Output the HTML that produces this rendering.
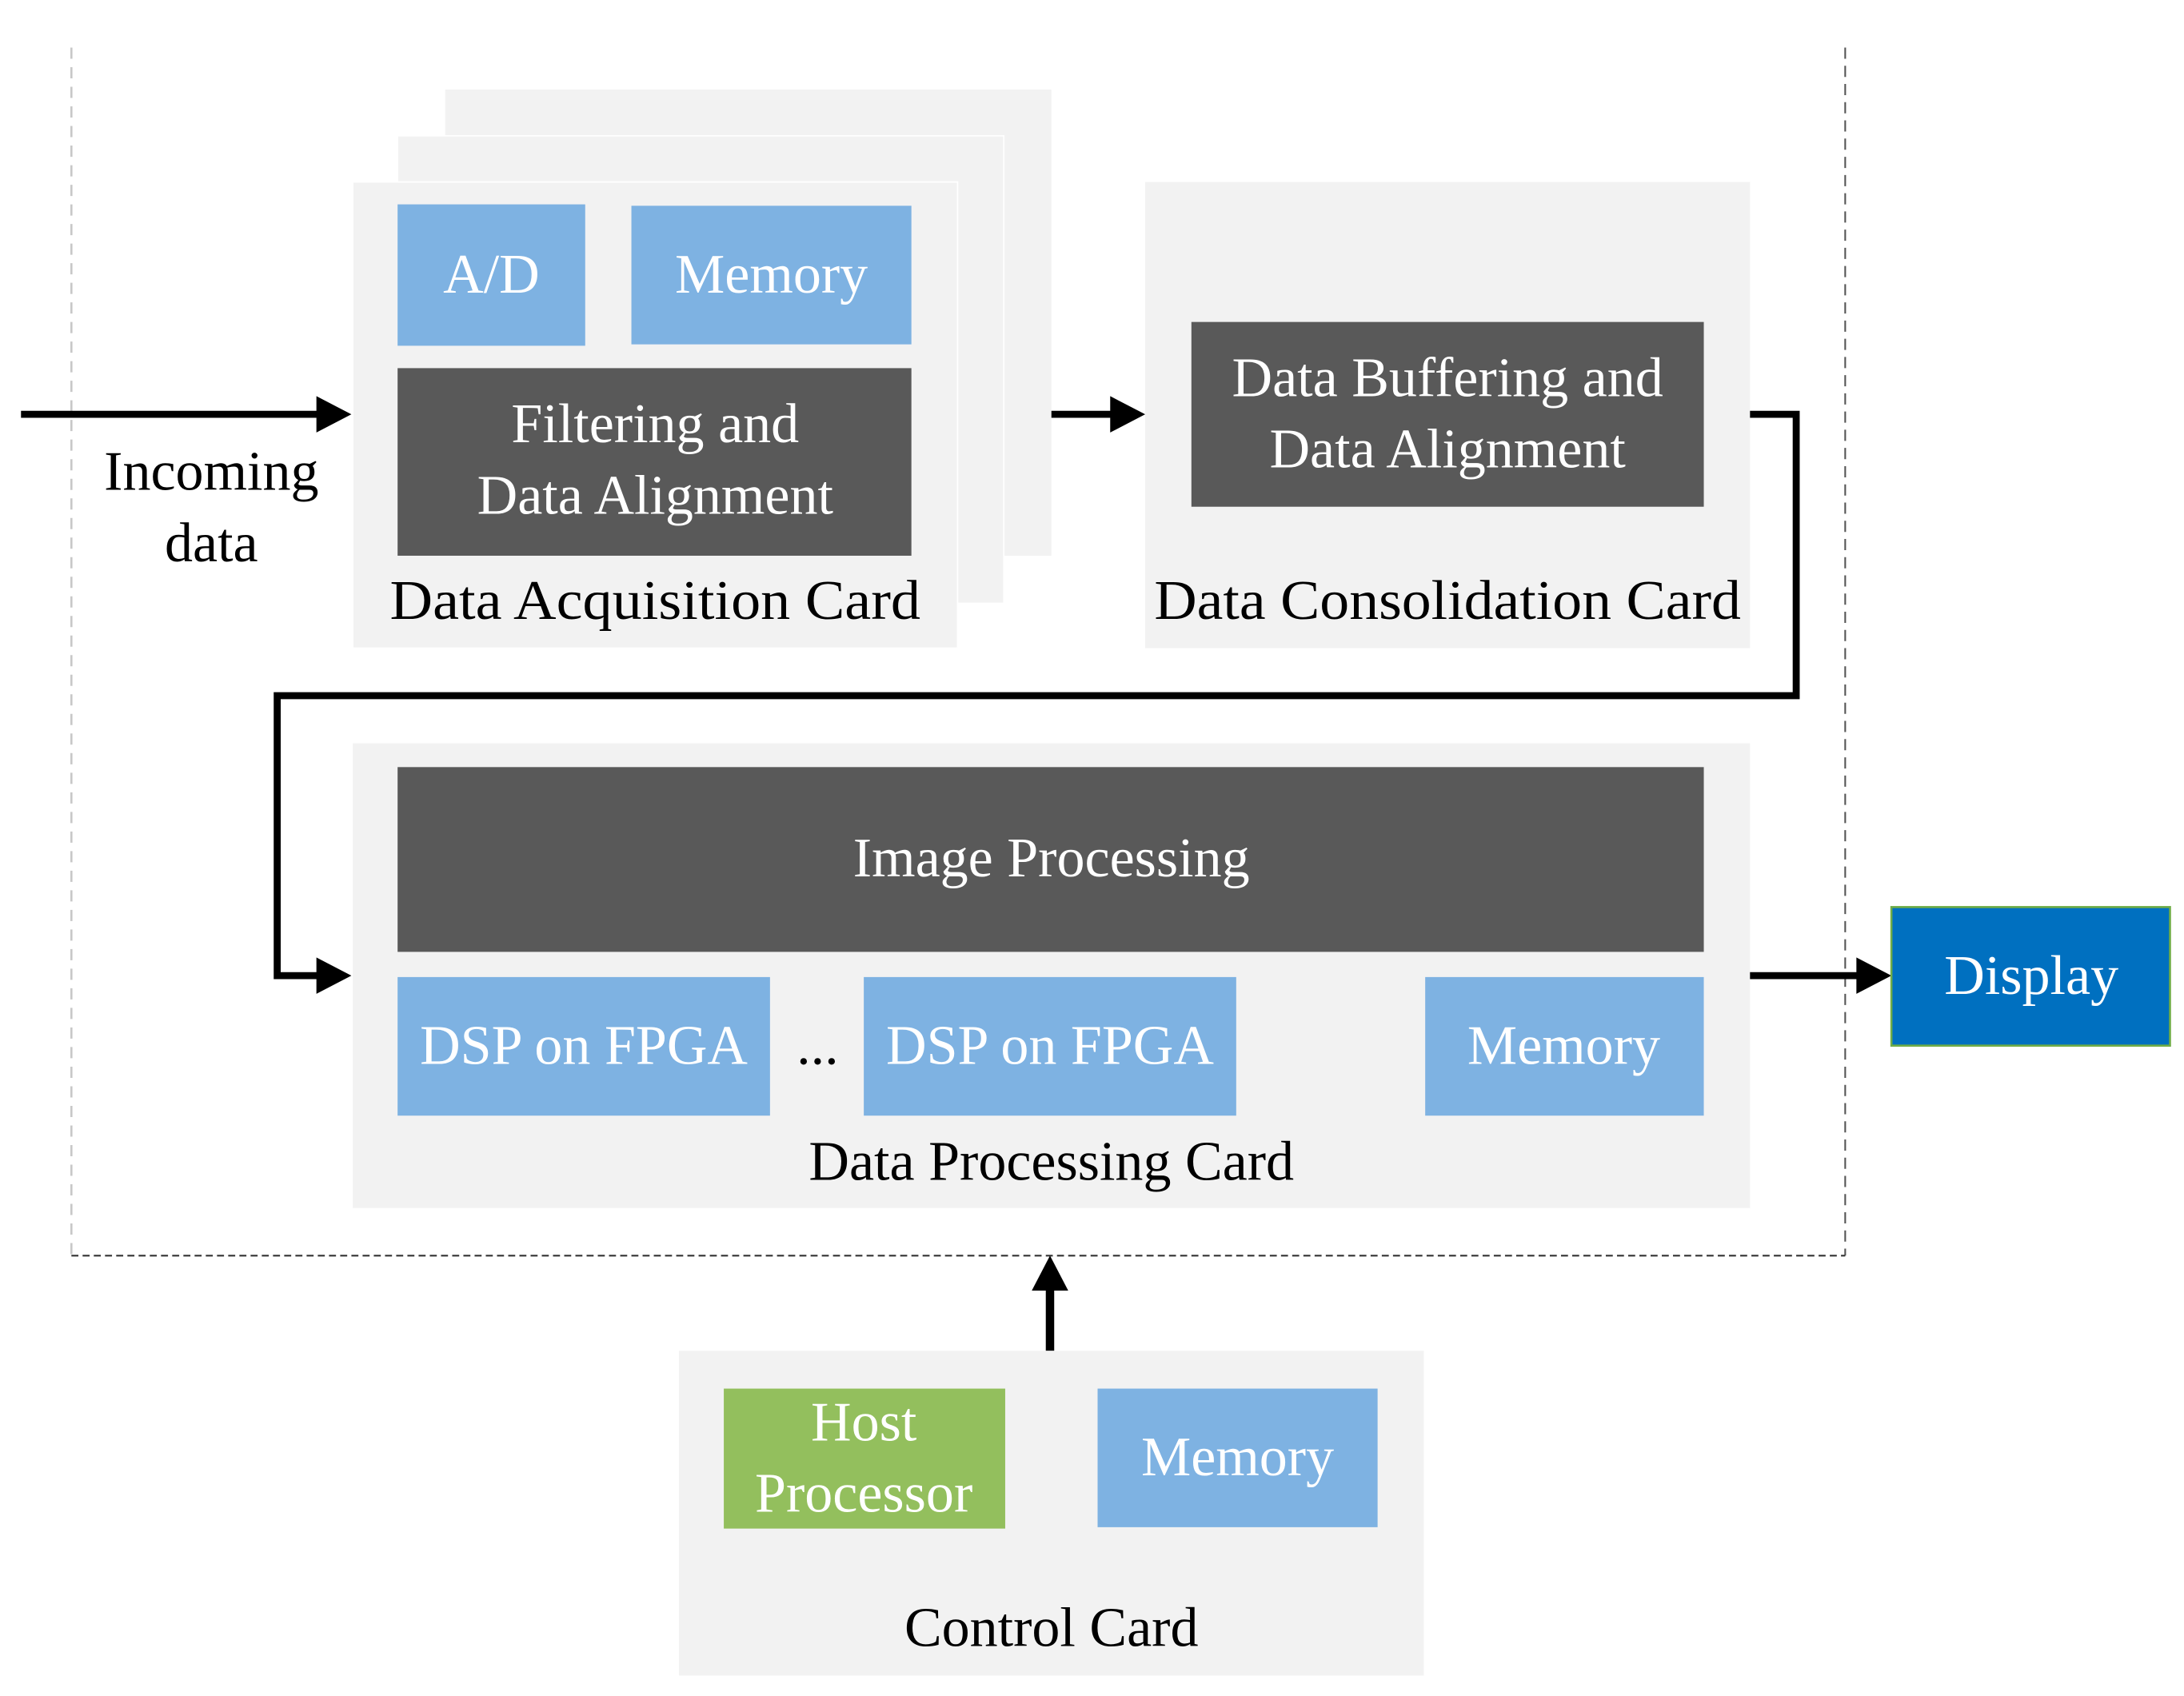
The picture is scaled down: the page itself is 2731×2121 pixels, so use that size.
<!DOCTYPE html>
<html><head><meta charset="utf-8"><style>
html,body{margin:0;padding:0;background:#fff;}
svg{display:block;}
text{font-family:"Liberation Serif","Times New Roman",serif;font-size:40px;text-anchor:middle;}
.w{fill:#fff;}
.k{fill:#000;}
</style></head><body>
<svg width="2731" height="2121" viewBox="0 0 1560 1211.6" preserveAspectRatio="none" xmlns="http://www.w3.org/2000/svg">
<defs>
<marker id="ah" markerWidth="6" markerHeight="6" refX="5" refY="3" orient="auto" markerUnits="strokeWidth">
<path d="M0,0 L6,3 L0,6 z" fill="#000"/>
</marker>
</defs>
<!-- dashed boundary -->
<line x1="51" y1="34" x2="51" y2="897" stroke="#c8c8c8" stroke-width="1.5" stroke-dasharray="8,6"/>
<line x1="1318" y1="34" x2="1318" y2="897" stroke="#555" stroke-width="1.2" stroke-dasharray="8,5"/>
<line x1="51" y1="897" x2="1318" y2="897" stroke="#333" stroke-width="1.2" stroke-dasharray="5,3"/>

<!-- acquisition stack -->
<rect x="318" y="64" width="433" height="333" fill="#f2f2f2"/>
<rect x="284" y="97" width="433" height="334" fill="#f2f2f2" stroke="#fff" stroke-width="1"/>
<rect x="252" y="130" width="432" height="333" fill="#f2f2f2" stroke="#fff" stroke-width="1"/>
<rect x="284" y="146" width="134" height="101" fill="#7eb2e2"/>
<rect x="451" y="147" width="200" height="99" fill="#7eb2e2"/>
<rect x="284" y="263" width="367" height="134" fill="#595959"/>
<text class="w" x="351" y="209">A/D</text>
<text class="w" x="551" y="209">Memory</text>
<text class="w" x="468" y="316">Filtering and</text>
<text class="w" x="468" y="367">Data Alignment</text>
<text class="k" x="468" y="442" textLength="379" lengthAdjust="spacingAndGlyphs">Data Acquisition Card</text>

<!-- incoming -->
<line x1="15" y1="296" x2="238" y2="296" stroke="#000" stroke-width="5"/>
<path d="M226,283 L251,296 L226,309 z" fill="#000"/>
<text class="k" x="151" y="350">Incoming</text>
<text class="k" x="151" y="401">data</text>

<!-- acq -> consolidation -->
<line x1="751" y1="296" x2="805" y2="296" stroke="#000" stroke-width="5"/>
<path d="M793,283 L818,296 L793,309 z" fill="#000"/>

<!-- consolidation -->
<rect x="818" y="130" width="432" height="333" fill="#f2f2f2"/>
<rect x="851" y="230" width="366" height="132" fill="#595959"/>
<text class="w" x="1034" y="283">Data Buffering and</text>
<text class="w" x="1034" y="334">Data Alignment</text>
<text class="k" x="1034" y="442" textLength="419" lengthAdjust="spacingAndGlyphs">Data Consolidation Card</text>

<!-- loop connector -->
<polyline points="1250,296 1283,296 1283,497 198,497 198,697 238,697" fill="none" stroke="#000" stroke-width="5"/>
<path d="M226,684 L251,697 L226,710 z" fill="#000"/>

<!-- processing card -->
<rect x="252" y="531" width="998" height="332" fill="#f2f2f2"/>
<rect x="284" y="548" width="933" height="132" fill="#595959"/>
<text class="w" x="751" y="626">Image Processing</text>
<rect x="284" y="698" width="266" height="99" fill="#7eb2e2"/>
<rect x="617" y="698" width="266" height="99" fill="#7eb2e2"/>
<rect x="1018" y="698" width="199" height="99" fill="#7eb2e2"/>
<text class="w" x="417" y="760">DSP on FPGA</text>
<text class="w" x="750" y="760">DSP on FPGA</text>
<text class="w" x="1117" y="760">Memory</text>
<text class="k" x="584" y="760">...</text>
<text class="k" x="751" y="843">Data Processing Card</text>

<!-- to display -->
<line x1="1250" y1="697" x2="1338" y2="697" stroke="#000" stroke-width="5"/>
<path d="M1326,684 L1351,697 L1326,710 z" fill="#000"/>
<rect x="1351" y="648" width="199" height="99" fill="#0070c0" stroke="#70ad47" stroke-width="1.5"/>
<text class="w" x="1451" y="710">Display</text>

<!-- control card up arrow -->
<line x1="750" y1="965" x2="750" y2="910" stroke="#000" stroke-width="6"/>
<path d="M737,922 L750,897 L763,922 z" fill="#000"/>

<!-- control card -->
<rect x="485" y="965" width="532" height="232" fill="#f2f2f2"/>
<rect x="517" y="992" width="201" height="100" fill="#93bf5d"/>
<rect x="784" y="992" width="200" height="99" fill="#7eb2e2"/>
<text class="w" x="617" y="1029">Host</text>
<text class="w" x="617" y="1080">Processor</text>
<text class="w" x="884" y="1054">Memory</text>
<text class="k" x="751" y="1176">Control Card</text>
</svg>
</body></html>
